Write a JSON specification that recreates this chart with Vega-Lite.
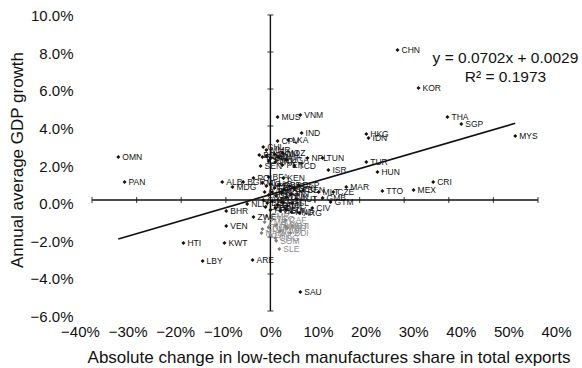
{
  "$schema": "https://vega.github.io/schema/vega-lite/v6.json",
  "width": 446,
  "height": 296,
  "autosize": {"type": "none"},
  "padding": {"left": 92, "top": 15, "right": 44, "bottom": 57},
  "background": "#ffffff",
  "config": {
    "view": {"stroke": null},
    "font": "Liberation Sans",
    "text": {"font": "Liberation Sans"}
  },
  "datasets": {
    "countries": [
      {"c": "OMN", "x": -0.341, "y": 0.0232},
      {"c": "PAN", "x": -0.327, "y": 0.0097},
      {"c": "ALB", "x": -0.108, "y": 0.0097},
      {"c": "MDG", "x": -0.085, "y": 0.007},
      {"c": "BGR", "x": -0.061, "y": 0.0097},
      {"c": "POL", "x": -0.038, "y": 0.0119},
      {"c": "NLD", "x": -0.052, "y": -0.0022},
      {"c": "BHR", "x": -0.099, "y": -0.006},
      {"c": "VEN", "x": -0.099, "y": -0.014},
      {"c": "ZWE", "x": -0.038, "y": -0.0092},
      {"c": "HTI", "x": -0.195, "y": -0.0232},
      {"c": "KWT", "x": -0.103, "y": -0.0232},
      {"c": "LBY", "x": -0.152, "y": -0.033},
      {"c": "ARE", "x": -0.04, "y": -0.0324},
      {"c": "SLE", "x": 0.02, "y": -0.0265},
      {"c": "SOM", "x": 0.013, "y": -0.022},
      {"c": "BDI", "x": 0.045, "y": -0.0178},
      {"c": "NIC", "x": 0.038, "y": -0.0151},
      {"c": "CAF", "x": 0.034, "y": -0.0108},
      {"c": "ARG", "x": 0.065, "y": -0.007},
      {"c": "CIV", "x": 0.094, "y": -0.0043},
      {"c": "GMB", "x": 0.117, "y": 0.0011},
      {"c": "GTM", "x": 0.135, "y": -0.0011},
      {"c": "MLT", "x": 0.108, "y": 0.0043},
      {"c": "CZE", "x": 0.141, "y": 0.0043},
      {"c": "MAR", "x": 0.17, "y": 0.007},
      {"c": "ISR", "x": 0.13, "y": 0.0162},
      {"c": "TUN", "x": 0.117, "y": 0.0227},
      {"c": "NPL", "x": 0.083, "y": 0.0227},
      {"c": "UGA", "x": 0.036, "y": 0.0216},
      {"c": "TCD", "x": 0.054, "y": 0.0184},
      {"c": "PER", "x": 0.027, "y": 0.0189},
      {"c": "SEN", "x": -0.022, "y": 0.0184},
      {"c": "CPV", "x": 0.016, "y": 0.0319},
      {"c": "LKA", "x": 0.04, "y": 0.0324},
      {"c": "MUS", "x": 0.016, "y": 0.0449},
      {"c": "VNM", "x": 0.067, "y": 0.0459},
      {"c": "IND", "x": 0.07, "y": 0.0362},
      {"c": "CHN", "x": 0.285, "y": 0.0811},
      {"c": "KOR", "x": 0.332, "y": 0.0605},
      {"c": "THA", "x": 0.397, "y": 0.0449},
      {"c": "SGP", "x": 0.428, "y": 0.0411},
      {"c": "MYS", "x": 0.549, "y": 0.0346},
      {"c": "HKG", "x": 0.215, "y": 0.0357},
      {"c": "IDN", "x": 0.22, "y": 0.0335},
      {"c": "TUR", "x": 0.215, "y": 0.0205},
      {"c": "HUN", "x": 0.24, "y": 0.0151},
      {"c": "CRI", "x": 0.365, "y": 0.0097},
      {"c": "TTO", "x": 0.251, "y": 0.0049},
      {"c": "MEX", "x": 0.321, "y": 0.0054},
      {"c": "SAU", "x": 0.067, "y": -0.0497},
      {"c": "CHL", "x": -0.016, "y": 0.0286},
      {"c": "MMR", "x": -0.009, "y": 0.027},
      {"c": "BGD", "x": -0.025, "y": 0.0243},
      {"c": "EGY", "x": -0.018, "y": 0.0232},
      {"c": "LAO", "x": -0.009, "y": 0.0238},
      {"c": "BWA", "x": 0.0, "y": 0.0227},
      {"c": "DOM", "x": 0.009, "y": 0.0249},
      {"c": "GHA", "x": 0.018, "y": 0.0232},
      {"c": "MOZ", "x": 0.027, "y": 0.0254},
      {"c": "JOR", "x": -0.004, "y": 0.0211},
      {"c": "PAK", "x": 0.011, "y": 0.0205},
      {"c": "BFA", "x": -0.004, "y": 0.0124},
      {"c": "KEN", "x": 0.029, "y": 0.0119},
      {"c": "MLI", "x": -0.018, "y": 0.0092},
      {"c": "NER", "x": -0.009, "y": 0.0076},
      {"c": "GAB", "x": 0.0, "y": 0.0086},
      {"c": "FRA", "x": 0.009, "y": 0.0065},
      {"c": "GBR", "x": 0.02, "y": 0.0081},
      {"c": "ITA", "x": 0.031, "y": 0.0059},
      {"c": "USA", "x": 0.043, "y": 0.0076},
      {"c": "DEU", "x": 0.054, "y": 0.0059},
      {"c": "ESP", "x": 0.063, "y": 0.0081},
      {"c": "BEN", "x": 0.074, "y": 0.0054},
      {"c": "CAN", "x": -0.013, "y": 0.0043},
      {"c": "AUS", "x": -0.004, "y": 0.0027},
      {"c": "JPN", "x": 0.004, "y": 0.0043},
      {"c": "SWE", "x": 0.013, "y": 0.0022},
      {"c": "NOR", "x": 0.025, "y": 0.0038},
      {"c": "DNK", "x": 0.036, "y": 0.0016},
      {"c": "FIN", "x": 0.047, "y": 0.0032},
      {"c": "AUT", "x": 0.058, "y": 0.0005},
      {"c": "CHE", "x": -0.016, "y": 0.0},
      {"c": "BEL", "x": -0.007, "y": -0.0016},
      {"c": "NZL", "x": 0.004, "y": -0.0005},
      {"c": "GRC", "x": 0.016, "y": -0.0027},
      {"c": "PRT", "x": 0.027, "y": -0.0011},
      {"c": "IRL", "x": 0.038, "y": -0.0032},
      {"c": "ISL", "x": 0.049, "y": -0.0016},
      {"c": "URY", "x": -0.011, "y": -0.0038},
      {"c": "PRY", "x": 0.0, "y": -0.0054},
      {"c": "BOL", "x": 0.011, "y": -0.0043},
      {"c": "ECU", "x": 0.022, "y": -0.0059},
      {"c": "SLV", "x": 0.036, "y": -0.0054},
      {"c": "HND", "x": 0.047, "y": -0.0065},
      {"c": "CMR", "x": -0.009, "y": -0.0086},
      {"c": "ZMB", "x": -0.013, "y": -0.0119},
      {"c": "NGA", "x": -0.004, "y": -0.0146},
      {"c": "TGO", "x": 0.004, "y": -0.0103},
      {"c": "RWA", "x": 0.013, "y": -0.0135},
      {"c": "MWI", "x": 0.022, "y": -0.0168},
      {"c": "MRT", "x": 0.034, "y": -0.0141},
      {"c": "GIN", "x": 0.0, "y": -0.0189},
      {"c": "COG", "x": 0.011, "y": -0.0205},
      {"c": "DJI", "x": 0.049, "y": -0.0141},
      {"c": "SDN", "x": -0.018, "y": -0.0157},
      {"c": "NAM", "x": -0.02, "y": -0.0178}
    ],
    "trend": [
      {"x": -0.341, "y": -0.02104},
      {"x": 0.549, "y": 0.04144}
    ],
    "xticks": [
      {"x": -0.4}, {"x": -0.3}, {"x": -0.2}, {"x": -0.1}, {"x": 0.1},
      {"x": 0.2}, {"x": 0.3}, {"x": 0.4}, {"x": 0.5}, {"x": 0.6}
    ],
    "yticks": [
      {"y": -0.06}, {"y": -0.04}, {"y": -0.02}, {"y": 0.02},
      {"y": 0.04}, {"y": 0.06}, {"y": 0.08}, {"y": 0.1}
    ],
    "single": [{}]
  },
  "layer": [
    {
      "layer": [
        {
          "data": {"name": "single"},
          "mark": {"type": "rule", "color": "#111111", "strokeWidth": 1.4},
          "encoding": {
            "x": {"datum": 0, "type": "quantitative", "scale": {"domain": [-0.4, 0.6], "nice": false, "zero": false}, "axis": null},
            "y": {"datum": -0.06, "type": "quantitative", "scale": {"domain": [-0.06, 0.1], "nice": false, "zero": false}, "axis": null},
            "y2": {"datum": 0.1}
          }
        },
        {
          "data": {"name": "single"},
          "mark": {"type": "rule", "color": "#111111", "strokeWidth": 1.4},
          "encoding": {
            "y": {"datum": 0, "type": "quantitative", "axis": null},
            "x": {"datum": -0.4, "type": "quantitative", "axis": null},
            "x2": {"datum": 0.6}
          }
        },
        {
          "data": {"name": "xticks"},
          "mark": {"type": "tick", "orient": "vertical", "color": "#111111", "size": 6, "thickness": 1.2},
          "encoding": {
            "x": {"field": "x", "type": "quantitative", "axis": null},
            "y": {"datum": 0, "type": "quantitative", "axis": null}
          }
        },
        {
          "data": {"name": "yticks"},
          "mark": {"type": "tick", "orient": "horizontal", "color": "#111111", "size": 6, "thickness": 1.2},
          "encoding": {
            "y": {"field": "y", "type": "quantitative", "axis": null},
            "x": {"datum": 0, "type": "quantitative", "axis": null}
          }
        },
        {
          "data": {"name": "trend"},
          "mark": {"type": "line", "color": "#111111", "strokeWidth": 1.6},
          "encoding": {
            "x": {"field": "x", "type": "quantitative", "axis": null},
            "y": {"field": "y", "type": "quantitative", "axis": null}
          }
        },
        {
          "data": {"name": "countries"},
          "mark": {"type": "point", "shape": "diamond", "filled": true, "size": 16, "opacity": 1},
          "encoding": {
            "x": {"field": "x", "type": "quantitative", "axis": null},
            "y": {"field": "y", "type": "quantitative", "axis": null},
            "fill": {
              "condition": {"test": "datum.y < -0.0085 && datum.y > -0.03 && datum.x > -0.03 && datum.x < 0.07", "value": "#7a7a7a"},
              "value": "#111111"
            },
            "stroke": {"value": null}
          }
        },
        {
          "data": {"name": "countries"},
          "mark": {"type": "text", "align": "left", "baseline": "middle", "dx": 4, "fontSize": 8.5},
          "encoding": {
            "x": {"field": "x", "type": "quantitative", "axis": null},
            "y": {"field": "y", "type": "quantitative", "axis": null},
            "text": {"field": "c"},
            "fill": {
              "condition": {"test": "datum.y < -0.0085 && datum.y > -0.03 && datum.x > -0.03 && datum.x < 0.07", "value": "#8c8c8c"},
              "value": "#111111"
            }
          }
        },
        {
          "data": {"name": "single"},
          "mark": {"type": "text", "align": "center", "baseline": "alphabetic", "fontSize": 15.5, "fill": "#111111"},
          "encoding": {
            "x": {"datum": 0.527, "type": "quantitative", "axis": null},
            "y": {"datum": 0.0741, "type": "quantitative", "axis": null},
            "text": {"value": "y = 0.0702x + 0.0029"}
          }
        },
        {
          "data": {"name": "single"},
          "mark": {"type": "text", "align": "center", "baseline": "alphabetic", "fontSize": 15.5, "fill": "#111111"},
          "encoding": {
            "x": {"datum": 0.527, "type": "quantitative", "axis": null},
            "y": {"datum": 0.0638, "type": "quantitative", "axis": null},
            "text": {"value": "R² = 0.1973"}
          }
        }
      ]
    },
    {
      "data": {"name": "single"},
      "mark": {"type": "point", "opacity": 0},
      "encoding": {
        "x": {
          "datum": 0,
          "type": "quantitative",
          "scale": {"domain": [-0.4, 0.6], "range": [-12, 464], "nice": false, "zero": false},
          "axis": {
            "title": "Absolute change in low-tech manufactures share in total exports",
            "orient": "bottom",
            "values": [-0.4, -0.3, -0.2, -0.1, 0, 0.1, 0.2, 0.3, 0.4, 0.5, 0.6],
            "labelExpr": "datum.value > 0.55 ? '40%' : format(datum.value, '.0%')",
            "domain": false,
            "ticks": false,
            "grid": false,
            "labelPadding": 13,
            "labelFont": "Liberation Sans",
            "labelFontSize": 15,
            "labelColor": "#111111",
            "labelOverlap": false,
            "labelFlush": false,
            "labelBound": false,
            "titleFont": "Liberation Sans",
            "titleFontSize": 17,
            "titleFontWeight": "normal",
            "titleColor": "#111111",
            "titleX": 236.5,
            "titleY": 51,
            "titleAlign": "center",
            "titleBaseline": "alphabetic"
          }
        },
        "y": {
          "datum": 0,
          "type": "quantitative",
          "scale": {"domain": [-0.06, 0.1], "range": [301.5, 0.5], "nice": false, "zero": false},
          "axis": {
            "title": "Annual average GDP growth",
            "orient": "left",
            "values": [-0.06, -0.04, -0.02, 0, 0.02, 0.04, 0.06, 0.08, 0.1],
            "format": ".1%",
            "domain": false,
            "ticks": false,
            "grid": false,
            "labelPadding": 19,
            "labelFont": "Liberation Sans",
            "labelFontSize": 15,
            "labelColor": "#111111",
            "labelOverlap": false,
            "labelFlush": false,
            "labelBound": false,
            "titleFont": "Liberation Sans",
            "titleFontSize": 17,
            "titleFontWeight": "normal",
            "titleColor": "#111111",
            "titleAngle": -90,
            "titleX": -70,
            "titleY": 144.5,
            "titleAlign": "center",
            "titleBaseline": "alphabetic"
          }
        }
      }
    }
  ],
  "resolve": {"scale": {"x": "independent", "y": "independent"}, "axis": {"x": "independent", "y": "independent"}}
}
